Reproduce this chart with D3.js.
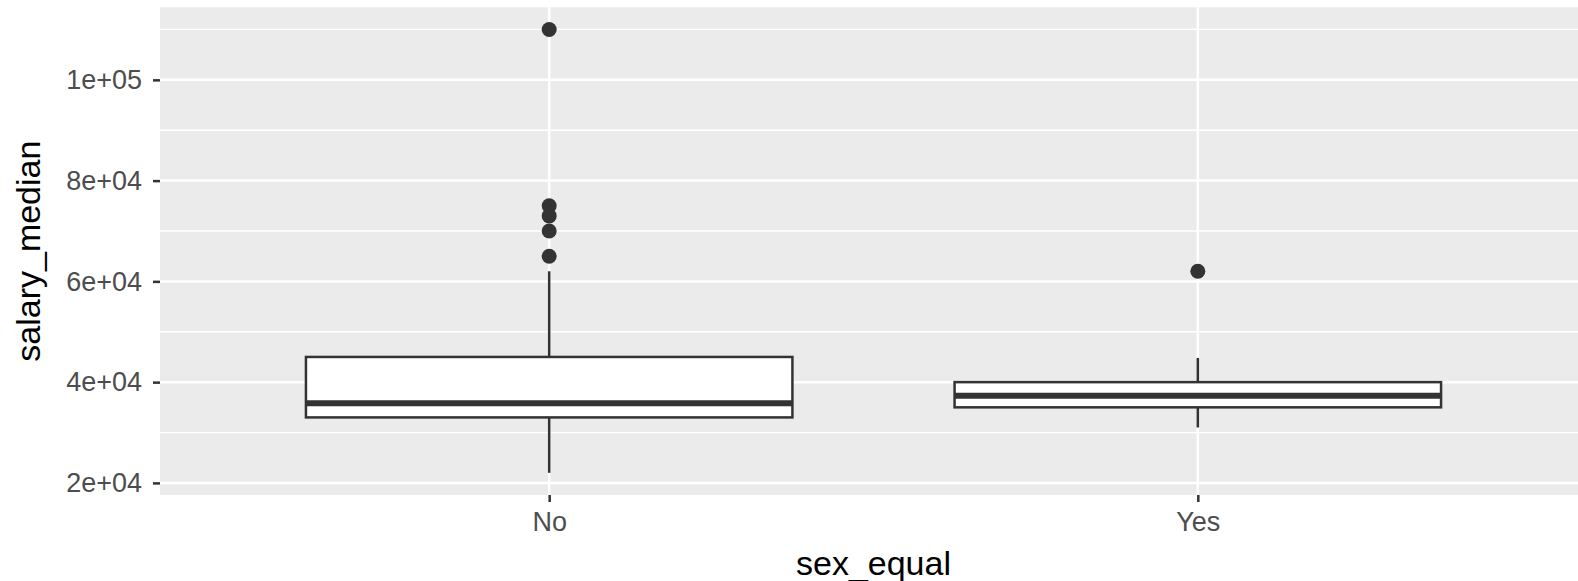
<!DOCTYPE html>
<html>
<head>
    <title>salary_median by sex_equal</title>
    <meta charset="utf-8" />
    <script type="text/javascript" src="https://cdn.jsdelivr.net/npm/d3@7"></script>
    <style>
        body { margin: 0; background: #fff; }
        text { font-family: "Liberation Sans", Arial, Helvetica, sans-serif; }
    </style>
</head>
<body>
    <script type="text/javascript">

        //Data
        var categories = ["No", "Yes"];
        var whiskerLow = [22000, 31000];
        var q1 = [33000, 35000];
        var median = [35800, 37300];
        var q3 = [45000, 40000];
        var whiskerHigh = [62000, 44800];
        var outliers = [[110000, 75000, 73000, 70000, 65000], [62000]];

        var yTicks = [20000, 40000, 60000, 80000, 100000];
        var yTickLabels = ["2e+04", "4e+04", "6e+04", "8e+04", "1e+05"];
        var yMinor = [30000, 50000, 70000, 90000, 110000];

        //Size and panel (window.top is taken, so own names)
        var w = 1578;
        var h = 581;
        var pLeft = 160, pRight = 1587, pTop = 7.3, pBottom = 495;
        var lineW = 2.5;

        var svg = d3.select("body")
                    .append("svg")
                    .attr("width", w)
                    .attr("height", h);

        var xScale = d3.scalePoint()
            .domain(categories)
            .range([pLeft, pRight])
            .padding(0.6);

        var yScale = d3.scaleLinear()
            .domain([17600, 114400])
            .range([pBottom, pTop]);

        var boxW = xScale.step() * 0.75;

        //Panel background
        svg.append("rect")
            .attr("x", pLeft)
            .attr("y", pTop)
            .attr("width", pRight - pLeft)
            .attr("height", pBottom - pTop)
            .attr("fill", "#EBEBEB");

        //Grid lines
        svg.selectAll("line.minor")
            .data(yMinor)
            .enter()
            .append("line")
            .attr("class", "minor")
            .attr("x1", pLeft).attr("x2", pRight)
            .attr("y1", function (d) { return yScale(d); })
            .attr("y2", function (d) { return yScale(d); })
            .attr("stroke", "#fff")
            .attr("stroke-width", 1.3);

        svg.selectAll("line.major")
            .data(yTicks)
            .enter()
            .append("line")
            .attr("class", "major")
            .attr("x1", pLeft).attr("x2", pRight)
            .attr("y1", function (d) { return yScale(d); })
            .attr("y2", function (d) { return yScale(d); })
            .attr("stroke", "#fff")
            .attr("stroke-width", 2.5);

        svg.selectAll("line.vmajor")
            .data(categories)
            .enter()
            .append("line")
            .attr("class", "vmajor")
            .attr("x1", function (d) { return xScale(d); })
            .attr("x2", function (d) { return xScale(d); })
            .attr("y1", pTop).attr("y2", pBottom)
            .attr("stroke", "#fff")
            .attr("stroke-width", 2.5);

        //Boxes
        var boxes = svg.selectAll("g.box")
            .data(categories)
            .enter()
            .append("g")
            .attr("class", "box");

        boxes.append("line")
            .attr("x1", function (d) { return xScale(d); })
            .attr("x2", function (d) { return xScale(d); })
            .attr("y1", function (d, i) { return yScale(whiskerHigh[i]); })
            .attr("y2", function (d, i) { return yScale(q3[i]); })
            .attr("stroke", "#333333")
            .attr("stroke-width", lineW);

        boxes.append("line")
            .attr("x1", function (d) { return xScale(d); })
            .attr("x2", function (d) { return xScale(d); })
            .attr("y1", function (d, i) { return yScale(q1[i]); })
            .attr("y2", function (d, i) { return yScale(whiskerLow[i]); })
            .attr("stroke", "#333333")
            .attr("stroke-width", lineW);

        boxes.append("rect")
            .attr("x", function (d) { return xScale(d) - boxW / 2; })
            .attr("y", function (d, i) { return yScale(q3[i]); })
            .attr("width", boxW)
            .attr("height", function (d, i) { return yScale(q1[i]) - yScale(q3[i]); })
            .attr("fill", "#fff")
            .attr("stroke", "#333333")
            .attr("stroke-width", lineW);

        boxes.append("line")
            .attr("x1", function (d) { return xScale(d) - boxW / 2; })
            .attr("x2", function (d) { return xScale(d) + boxW / 2; })
            .attr("y1", function (d, i) { return yScale(median[i]); })
            .attr("y2", function (d, i) { return yScale(median[i]); })
            .attr("stroke", "#333333")
            .attr("stroke-width", 6);

        //Outliers
        boxes.selectAll("circle")
            .data(function (d, i) { return outliers[i].map(function (v) { return { cat: d, value: v }; }); })
            .enter()
            .append("circle")
            .attr("cx", function (d) { return xScale(d.cat); })
            .attr("cy", function (d) { return yScale(d.value); })
            .attr("r", 7.5)
            .attr("fill", "#333333");

        //Axes
        var yAxis = d3.axisLeft(yScale)
            .tickValues(yTicks)
            .tickFormat(function (d, i) { return yTickLabels[i]; })
            .tickSize(7)
            .tickPadding(11);

        var xAxis = d3.axisBottom(xScale)
            .tickSize(7)
            .tickPadding(9.5);

        var gy = svg.append("g")
            .attr("transform", "translate(" + pLeft + ",0)")
            .call(yAxis);

        var gx = svg.append("g")
            .attr("transform", "translate(0," + pBottom + ")")
            .call(xAxis);

        [gx, gy].forEach(function (g) {
            g.select(".domain").remove();
            g.selectAll(".tick line").attr("stroke", "#333333").attr("stroke-width", lineW);
            g.selectAll(".tick text")
                .attr("fill", "#4D4D4D")
                .attr("font-size", "27px")
                .attr("font-family", "Liberation Sans, Arial, sans-serif");
        });

        //Axis titles
        svg.append("text")
            .attr("x", (pLeft + pRight) / 2)
            .attr("y", 575)
            .attr("text-anchor", "middle")
            .attr("font-size", "34px")
            .attr("fill", "#000")
            .text("sex_equal");

        svg.append("text")
            .attr("transform", "translate(40," + ((pTop + pBottom) / 2) + ") rotate(-90)")
            .attr("text-anchor", "middle")
            .attr("font-size", "34px")
            .attr("fill", "#000")
            .text("salary_median");

    </script>
</body>
</html>
